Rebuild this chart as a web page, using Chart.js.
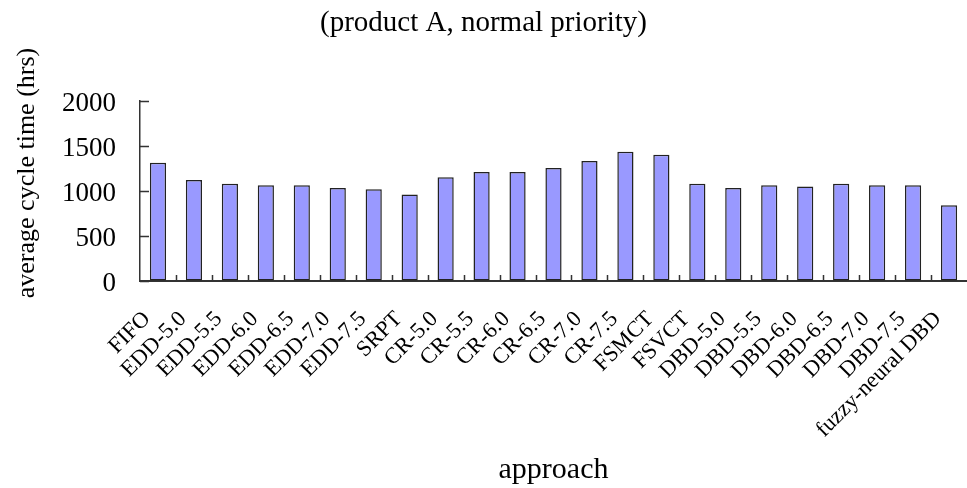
<!DOCTYPE html>
<html>
<head>
<meta charset="utf-8">
<script src="https://cdn.jsdelivr.net/npm/chart.js@4.4.1/dist/chart.umd.min.js"></script>
<style>
  html, body { margin: 0; padding: 0; background: #ffffff; }
  #wrap { width: 967px; height: 488px; position: relative; }
</style>
</head>
<body>
<div id="wrap"><canvas id="c"></canvas></div>
<script>
// Scheduling approaches compared
const approaches = [
  'FIFO', 'EDD-5.0', 'EDD-5.5', 'EDD-6.0', 'EDD-6.5', 'EDD-7.0', 'EDD-7.5', 'SRPT',
  'CR-5.0', 'CR-5.5', 'CR-6.0', 'CR-6.5', 'CR-7.0', 'CR-7.5', 'FSMCT', 'FSVCT',
  'DBD-5.0', 'DBD-5.5', 'DBD-6.0', 'DBD-6.5', 'DBD-7.0', 'DBD-7.5', 'fuzzy-neural DBD'
];

// Average cycle time (hrs), product A, normal priority
const avgCycleTime = [
  1313, 1122, 1078, 1063, 1063, 1033, 1019, 959,
  1152, 1210, 1210, 1255, 1332, 1435, 1402, 1078,
  1033, 1063, 1048, 1078, 1063, 1063, 842
];

const yTickValues = [0, 500, 1000, 1500, 2000];
const yAxisTitle = 'average cycle time (hrs)';

const SERIF = "'Liberation Serif', 'Times New Roman', serif";
const AXIS_COLOR = '#333333';

// Short tick marks drawn inward from the axes, plus the vertical axis title
const axisExtras = {
  id: 'axisExtras',
  afterDraw(chart) {
    const { ctx, chartArea, scales } = chart;
    const x = scales.x, y = scales.y;
    ctx.save();
    ctx.strokeStyle = AXIS_COLOR;
    ctx.lineWidth = 1.5;
    ctx.beginPath();
    yTickValues.forEach(v => {
      const py = Math.round(y.getPixelForValue(v)) + 0.5;
      ctx.moveTo(chartArea.left, py);
      ctx.lineTo(chartArea.left + 9, py);
    });
    const n = approaches.length;
    const step = (chartArea.right - chartArea.left) / n;
    for (let i = 1; i < n; i++) {
      const px = Math.round(x.getPixelForValue(i) - step / 2) + 0.5;
      ctx.moveTo(px, chartArea.bottom);
      ctx.lineTo(px, chartArea.bottom - 6);
    }
    ctx.stroke();

    ctx.translate(27, 173);
    ctx.rotate(-Math.PI / 2);
    ctx.fillStyle = '#000000';
    ctx.font = '26px ' + SERIF;
    ctx.textAlign = 'center';
    ctx.textBaseline = 'middle';
    ctx.fillText(yAxisTitle, 0, 0);
    ctx.restore();
  }
};

new Chart(document.getElementById('c'), {
  type: 'bar',
  data: {
    labels: approaches,
    datasets: [{
      data: avgCycleTime,
      backgroundColor: '#9999ff',
      borderColor: '#222222',
      borderWidth: 1.5,
      borderSkipped: false,
      categoryPercentage: 1.0,
      barPercentage: 0.45
    }]
  },
  options: {
    responsive: true,
    maintainAspectRatio: false,
    animation: false,
    layout: { padding: { left: 0, right: 0, top: 0, bottom: 0 } },
    plugins: {
      legend: { display: false },
      tooltip: { enabled: false },
      title: {
        display: true,
        text: '(product A, normal priority)',
        color: '#000000',
        font: { family: SERIF, size: 29, weight: 'normal' },
        padding: { top: 6, bottom: 60 }
      }
    },
    scales: {
      x: {
        grid: { display: true, offset: true, drawOnChartArea: false, drawTicks: false, color: 'rgba(0,0,0,0)' },
        border: { display: true, color: AXIS_COLOR, width: 2 },
        ticks: {
          color: '#000000',
          font: { family: SERIF, size: 22.5 },
          minRotation: 45,
          maxRotation: 45,
          autoSkip: false,
          padding: 25,
          labelOffset: -11
        },
        title: {
          display: true,
          text: 'approach',
          color: '#000000',
          font: { family: SERIF, size: 30 },
          padding: { top: 0, bottom: 0 }
        },
        afterFit(scale) {
          scale.height = 207;
          scale.paddingLeft = 0;
          scale.paddingRight = 0;
        }
      },
      y: {
        min: 0,
        max: 2000,
        grid: { display: true, drawOnChartArea: false, drawTicks: false, color: 'rgba(0,0,0,0)' },
        border: { display: true, color: AXIS_COLOR, width: 1.5 },
        ticks: {
          stepSize: 500,
          color: '#000000',
          font: { family: SERIF, size: 27 },
          padding: 24,
          labelOffset: 3,
          callback: v => String(v)
        },
        title: { display: false },
        afterFit(scale) { scale.width = 140; }
      }
    }
  },
  plugins: [axisExtras]
});
</script>
</body>
</html>
